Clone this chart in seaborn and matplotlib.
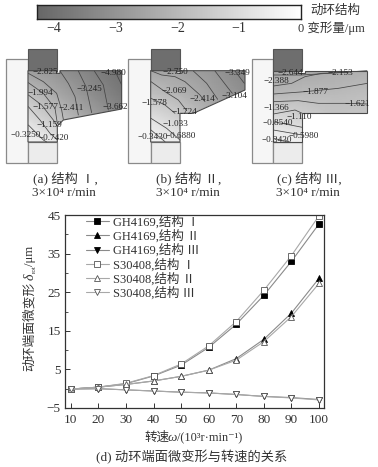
import numpy as np
import pandas as pd
import matplotlib
matplotlib.use("Agg")
import matplotlib.pyplot as plt
from matplotlib.colors import LinearSegmentedColormap
from matplotlib.patches import Polygon, Rectangle
import seaborn as sns

W, H = 378, 467
speed = [10, 20, 30, 40, 50, 60, 70, 80, 90, 100]
gh_1 = [-0.1, 0.4, 1.3, 3.3, 6.1, 10.7, 16.7, 24.2, 33.0, 42.7]
gh_2 = [-0.1, 0.4, 1.1, 2.0, 3.2, 4.8, 7.8, 12.8, 19.6, 28.6]
gh_3 = [-0.1, 0.0, -0.3, -0.6, -0.9, -1.1, -1.5, -2.0, -2.3, -2.8]
ss_1 = [-0.1, 0.4, 1.4, 3.4, 6.4, 11.1, 17.4, 25.5, 34.5, 44.8]
ss_2 = [-0.1, 0.4, 1.1, 2.0, 3.2, 4.8, 7.4, 12.2, 18.7, 27.3]
ss_3 = [-0.1, 0.0, -0.3, -0.6, -0.9, -1.1, -1.5, -2.0, -2.4, -2.9]
series_names = ["GH4169,结构 Ⅰ", "GH4169,结构 Ⅱ", "GH4169,结构 Ⅲ",
                "S30408,结构 Ⅰ", "S30408,结构 Ⅱ", "S30408,结构 Ⅲ"]
series_values = [gh_1, gh_2, gh_3, ss_1, ss_2, ss_3]
series_markers = ["s", "^", "v", "s", "^", "v"]
series_faces = ["black", "black", "black", "white", "white", "white"]
series_edges = ["black", "black", "black", "#555555", "#555555", "#555555"]
series_lines = ["#8a8a8a", "#8a8a8a", "#8a8a8a", "#a8a8a8", "#a8a8a8", "#a8a8a8"]
y_ticks = [-5, 5, 15, 25, 35, 45]
y_tick_labels = ["−5", "5", "15", "25", "35", "45"]
y_minor_ticks = [0, 10, 20, 30, 40]

cbar_ticks = [-4, -3, -2, -1]
cbar_tick_labels = ["−4", "−3", "−2", "−1"]

# panel geometry, in the pixel-tripled frame of each panel
frames = [(0, 40, 130, 130), (125, 40, 125, 130), (245, 40, 133, 130)]
stators = [(18, 58, 65, 311), (10, 58, 67, 311), (20, 58, 65, 311)]
blocks = [(84, 27, 86, 65), (77, 27, 88, 65), (85, 27, 87, 65)]
lowers = [(84, 306, 88, 63), (77, 306, 88, 63), (85, 306, 87, 63)]
rotors = [
    [(84, 92), (170, 92), (170, 100), (180, 100), (180, 92), (365, 92), (365, 207),
     (190, 240), (172, 258), (172, 306), (84, 306)],
    [(77, 92), (155, 92), (155, 100), (167, 100), (167, 92), (360, 92), (360, 150),
     (205, 220), (165, 220), (165, 306), (77, 306)],
    [(85, 92), (160, 92), (160, 100), (180, 100), (180, 92), (367, 92), (367, 220),
     (172, 220), (172, 306), (85, 306)],
]
grid_x = [[84, 170, 270, 365], [77, 165, 262, 360], [85, 172, 270, 367]]
grid_y = [92, 165, 240, 306]
fields = [
    [[-2.7, -3.0, -3.5, -4.0], [-1.7, -2.4, -3.1, -3.7], [-0.9, -1.6, -2.5, -3.3], [-0.3, -0.6, -2.0, -3.0]],
    [[-2.5, -2.6, -2.9, -3.4], [-1.7, -2.1, -2.6, -3.1], [-0.8, -1.3, -2.2, -3.0], [-0.3, -0.5, -2.0, -2.8]],
    [[-2.5, -2.4, -2.3, -2.2], [-2.0, -1.9, -1.9, -1.8], [-0.9, -1.2, -1.6, -1.6], [-0.3, -0.4, -1.2, -1.2]],
]
contours = [
    [[(85, 100), (130, 125), (170, 160), (185, 210), (190, 238)],
     [(85, 128), (130, 160), (165, 205), (172, 250)],
     [(85, 165), (125, 195), (160, 240), (172, 258)],
     [(85, 200), (120, 240), (150, 280), (172, 300)],
     [(85, 255), (130, 300), (140, 306)],
     [(180, 93), (205, 130), (225, 170), (235, 225)],
     [(235, 93), (258, 140), (275, 218)],
     [(283, 93), (310, 135), (325, 210)],
     [(345, 93), (365, 135)]],
    [[(77, 92), (110, 105), (150, 110), (180, 125), (225, 165), (240, 185)],
     [(78, 125), (120, 155), (160, 180), (185, 212)],
     [(78, 175), (120, 195), (150, 220)],
     [(78, 235), (125, 265), (165, 300)],
     [(78, 270), (120, 305)],
     [(205, 93), (245, 130), (278, 178)],
     [(270, 93), (310, 145), (322, 160)],
     [(330, 93), (358, 130)]],
    [[(85, 105), (170, 105), (250, 100), (366, 92)],
     [(85, 138), (140, 130), (180, 110), (230, 100), (310, 97)],
     [(85, 162), (180, 155), (280, 145), (367, 130)],
     [(85, 185), (160, 182), (220, 190), (310, 190), (367, 192)],
     [(85, 222), (150, 210), (172, 220)],
     [(85, 245), (172, 262)],
     [(85, 270), (172, 285)],
     [(85, 295), (130, 305)]],
]
contour_labels = [
    [("−2.825", 137, 96), ("−4.980", 340, 100), ("−3.245", 268, 147), ("−1.994", 122, 158),
     ("−1.577", 135, 200), ("−2.411", 215, 205), ("−3.662", 345, 202), ("−1.159", 148, 255),
     ("−0.3250", 76, 285), ("−0.7420", 161, 293)],
    [("−2.750", 150, 97), ("−3.349", 338, 99), ("−2.069", 148, 152), ("−1.578", 88, 190),
     ("−2.414", 233, 178), ("−3.104", 328, 168), ("−1.724", 178, 215), ("−1.033", 150, 253),
     ("−0.3430", 83, 292), ("−0.6880", 167, 289)],
    [("−2.644", 135, 98), ("−2.153", 285, 99), ("−2.388", 95, 123), ("−1.877", 212, 156),
     ("−1.621", 338, 192), ("−1.366", 95, 205), ("−1.110", 163, 232), ("−0.8540", 98, 250),
     ("−0.3430", 96, 300), ("−0.5980", 177, 288)],
]
captions = [("(a) 结构 Ⅰ,", 65), ("(b) 结构 Ⅱ,", 189), ("(c) 结构 Ⅲ,", 309)]
speed_caption = "3×10⁴ r/min"

sns.set_theme(style="white")
plt.rcParams["font.family"] = ["Liberation Serif", "Noto Sans CJK SC", "DejaVu Sans"]
plt.rcParams["axes.unicode_minus"] = True
TXT = "#333333"
cmap = LinearSegmentedColormap.from_list("bar", ["#666666", "#ffffff"])

fig = plt.figure(figsize=(W / 100, H / 100), dpi=100, facecolor="white")


def box(x, y, w, h):
    return [x / W, 1 - (y + h) / H, w / W, h / H]


def put(x, y, s, **kw):
    kw.setdefault("color", TXT)
    kw.setdefault("va", "center")
    return fig.text(x / W, 1 - y / H, s, **kw)


# colour bar
cax = fig.add_axes(box(36.5, 5, 264.5, 14))
sns.heatmap(np.linspace(-4.28, 0, 256)[None, :], ax=cax, cmap=cmap, vmin=-4.28, vmax=0, cbar=False,
            xticklabels=False, yticklabels=False, rasterized=True)
cax.set_xticks([(t + 4.28) / 4.28 * 256 for t in cbar_ticks])
cax.set_xticklabels(cbar_tick_labels, fontsize=10, color=TXT)
cax.tick_params(axis="x", direction="in", length=1.5, width=0.7, pad=2.5, top=True, bottom=True, color="#222222")
cax.set_yticks([])
for s in cax.spines.values():
    s.set_visible(True)
    s.set_color("#222222")
    s.set_linewidth(1.0)
put(335, 11, "动环结构", ha="center", fontsize=9)
put(298, 28, "0 变形量/μm", ha="left", fontsize=9)

# structure panels
for i, (fx, fy, fw, fh) in enumerate(frames):
    ax = fig.add_axes(box(fx, fy, fw, fh))
    ax.set_xlim(0, fw * 3)
    ax.set_ylim(fh * 3, 0)
    ax.axis("off")
    sx, sy, sw, sh = stators[i]
    ax.add_patch(Rectangle((sx, sy), sw, sh, fc="#f6f6f6", ec="#8a8a8a", lw=0.9))
    lx, ly, lw_, lh = lowers[i]
    ax.add_patch(Rectangle((lx, ly), lw_, lh, fc="#ececec", ec="#8a8a8a", lw=0.9))
    bx, by, bw, bh = blocks[i]
    ax.add_patch(Rectangle((bx, by), bw, bh, fc="#6e6e6e", ec="#555555", lw=0.8))
    poly = Polygon(rotors[i], closed=True, fc="none", ec="#4a4a4a", lw=0.8, zorder=4)
    ax.add_patch(poly)
    mesh = ax.pcolormesh(grid_x[i], grid_y, np.array(fields[i]), cmap=cmap, vmin=-4.28, vmax=0,
                         shading="gouraud", zorder=2)
    mesh.set_clip_path(poly)
    for line in contours[i]:
        xs, ys = zip(*line)
        ax.plot(xs, ys, color="#444444", lw=0.55, zorder=3)
    for s, x, y in contour_labels[i]:
        ax.text(x, y, s, fontsize=6.6, color="#222222", ha="center", va="center", zorder=5)
    cap, cx = captions[i]
    put(cx, 178, cap, ha="center", fontsize=9.5)
    put(cx - 1, 193, speed_caption, ha="center", fontsize=9.5)

# main line chart
ax = fig.add_axes(box(65, 215, 259, 193))
for name, vals, m, fc, ec, lc in zip(series_names, series_values, series_markers,
                                     series_faces, series_edges, series_lines):
    frame = pd.DataFrame({"speed": speed, "value": vals})
    sns.lineplot(data=frame, x="speed", y="value", ax=ax, color=lc, lw=0.8, marker=m,
                 markersize=4.4, markerfacecolor=fc, markeredgecolor=ec, markeredgewidth=0.6,
                 label=name, errorbar=None)
ax.set_xlim(7.9, 101.8)
ax.set_ylim(-5, 45)
ax.set_xlabel("")
ax.set_ylabel("")
ax.set_xticks(speed)
ax.set_yticks(y_ticks)
ax.set_yticklabels(y_tick_labels)
ax.set_yticks(y_minor_ticks, minor=True)
ax.tick_params(axis="both", which="major", direction="in", length=3.5, width=0.7, labelsize=9.5,
               labelcolor=TXT, left=True, bottom=True, pad=3, color="#333333")
ax.tick_params(axis="x", which="major", pad=4.5)
ax.tick_params(axis="y", which="minor", direction="in", length=2, width=0.6, left=True, color="#333333")
for s in ax.spines.values():
    s.set_visible(True)
    s.set_color("#333333")
    s.set_linewidth(0.9)
leg = ax.legend(loc="upper left", bbox_to_anchor=(0.06, 1.025), frameon=False, fontsize=9,
                labelspacing=0.08, handlelength=1.9, handletextpad=0.3, borderaxespad=0.0,
                labelcolor=TXT)

# axis titles
put(30, 371, "动环端面微变形", rotation=90, ha="center", va="bottom", fontsize=9.2)
put(30, 280, "δ", rotation=90, ha="center", va="bottom", fontsize=10, style="italic")
put(34, 273, "rot", rotation=90, ha="center", va="bottom", fontsize=5)
put(30, 266, "/μm", rotation=90, ha="center", va="bottom", fontsize=9.2)
put(144, 438, "转速", ha="left", fontsize=9)
put(168, 438, "ω", ha="left", fontsize=9.5, style="italic")
put(177, 438, "/(10³r·min⁻¹)", ha="left", fontsize=8.8)
put(192, 457, "(d) 动环端面微变形与转速的关系", ha="center", fontsize=9.5)

fig.savefig("out.png", dpi=100, facecolor="white")
